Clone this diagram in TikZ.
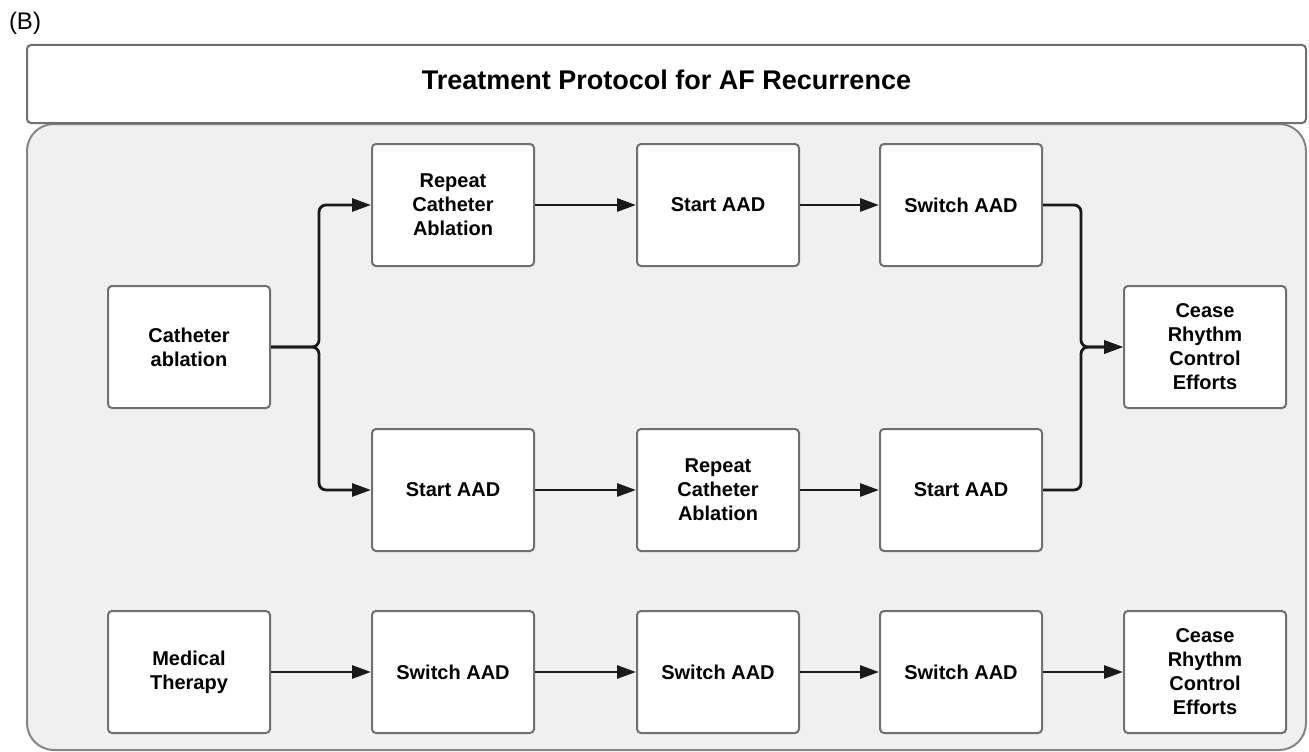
\documentclass[tikz,border=0pt]{standalone}
\usepackage{fontspec}
\setmainfont{Liberation Sans}
\usetikzlibrary{arrows.meta}
\definecolor{panelgray}{HTML}{F0F0F0}
\definecolor{edgegray}{HTML}{707070}
\definecolor{linkblack}{HTML}{1A1A1A}

\begin{document}
\begin{tikzpicture}[x=1pt, y=-1pt,
                    box/.style={draw=edgegray, line width=2pt, fill=white, rounded corners=4pt,
                                minimum width=162pt, minimum height=122pt, align=center,
                                font=\fontsize{20}{24}\selectfont\bfseries},
                    link/.style={draw=linkblack, line width=2.8pt, rounded corners=7pt,
                                 -{Triangle[length=19pt, width=13pt]}}]

    \useasboundingbox (0,0) rectangle (1309,752);
    \node (label) at (25,23) {\fontsize{24}{28}\selectfont (B)};

    % frame and title
    \draw[draw=edgegray!85, line width=2pt, fill=panelgray, rounded corners=27pt] (27,124) rectangle (1306,750);
    \node[draw=edgegray, line width=2pt, fill=white, rounded corners=4pt,
          minimum width=1279pt, minimum height=78pt, text height=20pt, text depth=10pt,
          font=\fontsize{27}{32}\selectfont\bfseries] (title) at (666.5,84) {Treatment Protocol for AF Recurrence};

    % catheter ablation
    \node[box] (cath) at (189,347) {Catheter\\ablation};
    \node[box] (rca1) at (453,205) {Repeat\\Catheter\\Ablation};
    \node[box] (sa1) at (718,205) {Start AAD};
    \node[box] (sw1) at (961,205) {Switch AAD};
    \node[box] (sa2) at (453,490) {Start AAD};
    \node[box] (rca2) at (718,490) {Repeat\\Catheter\\Ablation};
    \node[box] (sa3) at (961,490) {Start AAD};
    \node[box] (cease1) at (1205,347) {Cease\\Rhythm\\Control\\Efforts};

    % medical therapy
    \node[box] (med) at (189,672) {Medical\\Therapy};
    \node[box] (sw2) at (453,672) {Switch AAD};
    \node[box] (sw3) at (718,672) {Switch AAD};
    \node[box] (sw4) at (961,672) {Switch AAD};
    \node[box] (cease2) at (1205,672) {Cease\\Rhythm\\Control\\Efforts};

    \draw[link] (cath.east) -| ([xshift=-52pt]rca1.west) -- (rca1.west);
    \draw[link] (cath.east) -| ([xshift=-52pt]sa2.west) -- (sa2.west);
    \draw[link] (sw1.east) -| ([xshift=-42pt]cease1.west) -- (cease1.west);
    \draw[link] (sa3.east) -| ([xshift=-42pt]cease1.west) -- (cease1.west);
    \foreach \a/\b in {rca1/sa1, sa1/sw1, sa2/rca2, rca2/sa3, med/sw2, sw2/sw3, sw3/sw4, sw4/cease2}
        \draw[link] (\a.east) -- (\b.west);

\end{tikzpicture}
\end{document}
